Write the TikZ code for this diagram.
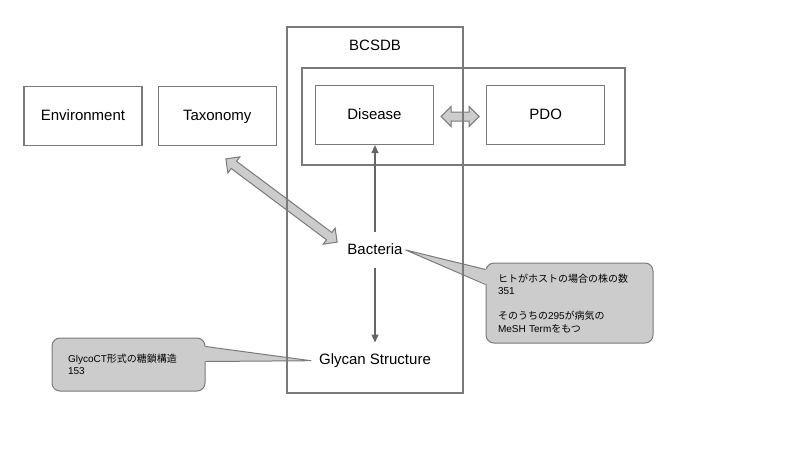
\documentclass[tikz,border=0pt]{standalone}
\usepackage{fontspec}
\setmainfont{Liberation Sans}
\newfontfamily\jp{Noto Sans CJK JP}
\usepackage{tikz}
\usetikzlibrary{positioning,arrows.meta,shapes.arrows}

\definecolor{linegray}{HTML}{7A7A7A}
\definecolor{arrowgray}{HTML}{666666}
\definecolor{fatfill}{HTML}{CCCCCC}

\begin{document}
\begin{tikzpicture}[x=1pt, y=-1pt]
   \tikzset{
     box/.style      = { draw            = linegray,
                         line width      = 1.2pt,
                         minimum width   = 118pt,
                         minimum height  = 59pt,
                         text height     = 11pt,
                         text depth      = 3pt,
                         font            = \fontsize{15}{18}\selectfont },
     frame/.style    = { draw            = linegray,
                         line width      = 1.2pt,
                         inner sep       = 0pt },
     label/.style    = { font            = \fontsize{15}{18}\selectfont,
                         text height     = 11pt,
                         text depth      = 3pt,
                         inner xsep      = 3pt,
                         inner ysep      = 11pt },
     link/.style     = { draw            = arrowgray,
                         line width      = 1.2pt,
                         -{Triangle[length=8pt, width=7pt]} },
     fatarrow/.style = { double arrow,
                         draw            = linegray,
                         fill            = fatfill,
                         line width      = 1pt,
                         inner sep       = 4pt,
                         double arrow head extend = 5.5pt,
                         double arrow tip angle   = 90 },
     callout/.style  = { draw            = linegray,
                         fill            = fatfill,
                         line width      = 1pt,
                         rounded corners = 8pt,
                         align           = left,
                         font            = \fontsize{10}{12.5}\selectfont },
  }

    \useasboundingbox [fill = white] (0,0) rectangle (800,450);

    \node [box] (env) at (83,116) {Environment};
    \node [box, right = 15pt of env] (tax) {Taxonomy};

    \node [frame, minimum width = 323pt, minimum height = 97pt] (group) at (463.5,116.5) {};
    \node [box] (disease) at (374.5,115) {Disease};
    \node [box, right = 52pt of disease] (pdo) {PDO};

    \node [label] (bact)   at (375,250)   {Bacteria};
    \node [label] (glycan) at (375,360.7) {Glycan Structure};

    \draw [link] (bact) -- (bact |- disease.south);
    \draw [link] (bact) -- (glycan);

    \path (disease.east) -- (pdo.west)
        node [fatarrow, midway, yshift = -1.5pt, minimum height = 38pt] (dislink) {};

    \coordinate (taxtip)  at (226,159);
    \coordinate (bacttip) at (337,242);
    \path (taxtip) -- (bacttip)
        node [fatarrow, midway, sloped, minimum height = 139pt] (taxlink) {};

    \node [callout, text width = 143pt, inner xsep = 12pt,
           minimum height = 80pt] (hostnote) at (569.5,303)
        {
            {\jp ヒトがホストの場合の株の数}\\
            351\\[12.5pt]
            {\jp そのうちの}295{\jp が病気の}\\
            MeSH Term{\jp をもつ}
        };
    \fill [fatfill] ([shift = {(2pt,-7pt)}]hostnote.north west) -- (bact.east)
        -- ([shift = {(2pt,-22pt)}]hostnote.north west) -- cycle;
    \draw [linegray, line width = 1pt, line join = round]
        ([yshift = -7pt]hostnote.north west) -- (bact.east)
        -- ([yshift = -22pt]hostnote.north west);

    \node [callout, text width = 121pt, inner xsep = 16pt,
           minimum height = 53pt] (glycnote) at (128.5,364.5)
        {
            GlycoCT{\jp 形式の糖鎖構造}\\
            153
        };
    \coordinate (glyctip) at ([xshift = -5pt]glycan.west);
    \fill [fatfill] ([shift = {(-2pt,-9pt)}]glycnote.north east) -- (glyctip)
        -- ([shift = {(-2pt,-24pt)}]glycnote.north east) -- cycle;
    \draw [linegray, line width = 1pt, line join = round]
        ([yshift = -9pt]glycnote.north east) -- (glyctip)
        -- ([yshift = -24pt]glycnote.north east);

    \node [frame, minimum width = 176pt, minimum height = 366pt] (bcsdb) at (375,210) {};
    \node [font = \fontsize{15}{18}\selectfont] (bcsdbname) at (375,45) {BCSDB};

\end{tikzpicture}
\end{document}
